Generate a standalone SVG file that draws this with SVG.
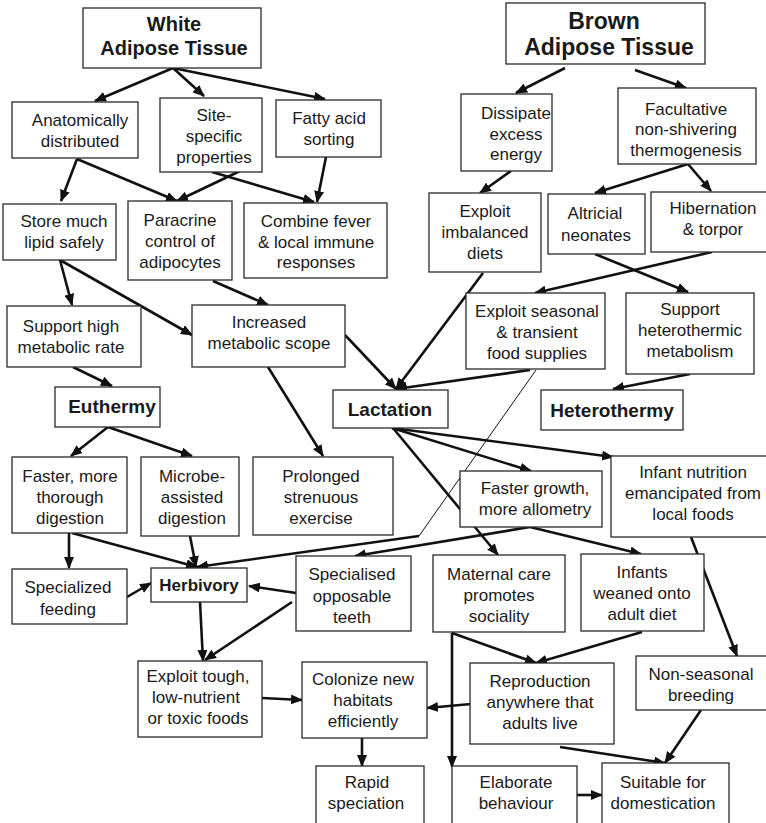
<svg xmlns="http://www.w3.org/2000/svg" width="766" height="823" viewBox="0 0 766 823">
<style>
.b{fill:#fff;stroke:#2a2a2a;stroke-width:1.3}
.t{font-family:"Liberation Sans",Arial,sans-serif;font-size:17px;fill:#1a1a1a;text-anchor:middle}
.h{font-weight:bold;font-size:19px}
.c{stroke:#111;stroke-width:2.6;fill:none;marker-end:url(#ah)}
.thin{stroke:#111;stroke-width:1;fill:none}
</style>
<defs>
<marker id="ah" markerUnits="userSpaceOnUse" markerWidth="13" markerHeight="10" refX="11" refY="5" orient="auto">
<path d="M0,0 L12,5 L0,10 z" fill="#111"/>
</marker>
</defs>
<rect width="766" height="823" fill="#fff"/>
<g id="connectors">
<line class="c" x1="173" y1="68" x2="95" y2="101"/>
<line class="c" x1="173" y1="68" x2="204" y2="96"/>
<line class="c" x1="173" y1="68" x2="325" y2="99"/>
<line class="c" x1="77" y1="159" x2="61" y2="201"/>
<line class="c" x1="77" y1="159" x2="177" y2="201"/>
<line class="c" x1="240" y1="171" x2="177" y2="201"/>
<line class="c" x1="212" y1="172" x2="314" y2="202"/>
<line class="c" x1="326" y1="157" x2="317" y2="202"/>
<line class="c" x1="60" y1="260" x2="72" y2="305"/>
<line class="c" x1="60" y1="260" x2="192" y2="335"/>
<line class="c" x1="213" y1="281" x2="268" y2="305"/>
<line class="c" x1="73" y1="367" x2="112" y2="386"/>
<line class="c" x1="268" y1="367" x2="323" y2="456"/>
<line class="c" x1="345" y1="335" x2="396" y2="389"/>
<line class="c" x1="483" y1="273" x2="396" y2="389"/>
<line class="c" x1="530" y1="370" x2="396" y2="389"/>
<line class="c" x1="108" y1="427" x2="71" y2="456"/>
<line class="c" x1="108" y1="427" x2="192" y2="456"/>
<line class="c" x1="565" y1="68" x2="516" y2="93"/>
<line class="c" x1="635" y1="70" x2="686" y2="88"/>
<line class="c" x1="511" y1="171" x2="480" y2="193"/>
<line class="c" x1="688" y1="164" x2="595" y2="193"/>
<line class="c" x1="688" y1="164" x2="711" y2="191"/>
<line class="c" x1="595" y1="254" x2="688" y2="292"/>
<line class="c" x1="712" y1="252" x2="535" y2="293"/>
<line class="c" x1="690" y1="374" x2="613" y2="389"/>
<line class="c" x1="392" y1="428" x2="531" y2="471"/>
<line class="c" x1="392" y1="428" x2="613" y2="457"/>
<line class="c" x1="393" y1="428" x2="498" y2="555"/>
<line class="thin" x1="536" y1="370" x2="419" y2="536"/>
<line class="c" x1="419" y1="536" x2="197" y2="567"/>
<line class="c" x1="530" y1="527" x2="355" y2="556"/>
<line class="c" x1="530" y1="527" x2="641" y2="554"/>
<line class="c" x1="691" y1="537" x2="737" y2="656"/>
<line class="c" x1="452" y1="633" x2="536" y2="663"/>
<line class="c" x1="452" y1="633" x2="452" y2="767"/>
<line class="c" x1="642" y1="632" x2="536" y2="663"/>
<line class="c" x1="471" y1="704" x2="427" y2="708"/>
<line class="c" x1="560" y1="747" x2="665" y2="763"/>
<line class="c" x1="701" y1="710" x2="665" y2="763"/>
<line class="c" x1="576" y1="795" x2="602" y2="795"/>
<line class="c" x1="362" y1="738" x2="362" y2="766"/>
<line class="c" x1="262" y1="698" x2="302" y2="700"/>
<line class="c" x1="200" y1="602" x2="203" y2="661"/>
<line class="c" x1="292" y1="602" x2="205" y2="660"/>
<line class="c" x1="296" y1="593" x2="249" y2="586"/>
<line class="c" x1="127" y1="597" x2="151" y2="583"/>
<line class="c" x1="69" y1="533" x2="69" y2="568"/>
<line class="c" x1="72" y1="533" x2="197" y2="567"/>
<line class="c" x1="190" y1="536" x2="196" y2="567"/>
</g>
<g id="wat"><rect class="b" x="83" y="8" width="178" height="60"/><text class="t h" style="font-size:20px" x="174" y="31">White</text><text class="t h" style="font-size:20px" x="174" y="55">Adipose Tissue</text></g>
<g id="anat"><rect class="b" x="12" y="102" width="126" height="56"/><text class="t" x="80" y="126">Anatomically</text><text class="t" x="80" y="147">distributed</text></g>
<g id="site"><rect class="b" x="160" y="98" width="102" height="74"/><text class="t" x="214" y="121">Site-</text><text class="t" x="214" y="142">specific</text><text class="t" x="214" y="163">properties</text></g>
<g id="fatty"><rect class="b" x="276" y="100" width="105" height="57"/><text class="t" x="329" y="124">Fatty acid</text><text class="t" x="329" y="145">sorting</text></g>
<g id="store"><rect class="b" x="3" y="204" width="113" height="56"/><text class="t" x="64" y="227">Store much</text><text class="t" x="64" y="248">lipid safely</text></g>
<g id="paracrine"><rect class="b" x="128" y="201" width="104" height="79"/><text class="t" x="180" y="226">Paracrine</text><text class="t" x="180" y="247">control of</text><text class="t" x="180" y="268">adipocytes</text></g>
<g id="combine"><rect class="b" x="244" y="203" width="143" height="75"/><text class="t" x="316" y="227">Combine fever</text><text class="t" x="316" y="248">&amp; local immune</text><text class="t" x="316" y="268">responses</text></g>
<g id="supporthigh"><rect class="b" x="7" y="306" width="134" height="61"/><text class="t" x="71" y="332">Support high</text><text class="t" x="71" y="353">metabolic rate</text></g>
<g id="increased"><rect class="b" x="192" y="305" width="153" height="62"/><text class="t" x="269" y="328">Increased</text><text class="t" x="269" y="349">metabolic scope</text></g>
<g id="euthermy"><rect class="b" x="55" y="387" width="105" height="40"/><text class="t h" x="112" y="413">Euthermy</text></g>
<g id="lactation"><rect class="b" x="333" y="390" width="115" height="38"/><text class="t h" x="390" y="416">Lactation</text></g>
<g id="heterothermy"><rect class="b" x="541" y="390" width="142" height="40"/><text class="t h" x="612" y="417">Heterothermy</text></g>
<g id="fasterdig"><rect class="b" x="12" y="457" width="115" height="76"/><text class="t" x="70" y="482">Faster, more</text><text class="t" x="70" y="503">thorough</text><text class="t" x="70" y="524">digestion</text></g>
<g id="microbe"><rect class="b" x="141" y="457" width="98" height="79"/><text class="t" x="192" y="482">Microbe-</text><text class="t" x="192" y="503">assisted</text><text class="t" x="192" y="524">digestion</text></g>
<g id="prolonged"><rect class="b" x="253" y="457" width="140" height="78"/><text class="t" x="321" y="482">Prolonged</text><text class="t" x="321" y="503">strenuous</text><text class="t" x="321" y="524">exercise</text></g>
<g id="fastergrowth"><rect class="b" x="460" y="471" width="142" height="56"/><text class="t" x="535" y="494">Faster growth,</text><text class="t" x="535" y="515">more allometry</text></g>
<g id="infantnutrition"><rect class="b" x="611" y="456" width="160" height="81"/><text class="t" x="693" y="478">Infant nutrition</text><text class="t" x="693" y="499">emancipated from</text><text class="t" x="693" y="520">local foods</text></g>
<g id="bat"><rect class="b" x="506" y="3" width="199" height="61"/><text class="t h" style="font-size:23px" x="604" y="29">Brown</text><text class="t h" style="font-size:23px" x="609" y="55">Adipose Tissue</text></g>
<g id="dissipate"><rect class="b" x="461" y="94" width="91" height="77"/><text class="t" x="516" y="119">Dissipate</text><text class="t" x="516" y="140">excess</text><text class="t" x="516" y="160">energy</text></g>
<g id="facultative"><rect class="b" x="618" y="88" width="138" height="76"/><text class="t" x="686" y="115">Facultative</text><text class="t" x="686" y="135">non-shivering</text><text class="t" x="686" y="156">thermogenesis</text></g>
<g id="imbalanced"><rect class="b" x="429" y="193" width="112" height="79"/><text class="t" x="485" y="217">Exploit</text><text class="t" x="485" y="238">imbalanced</text><text class="t" x="485" y="259">diets</text></g>
<g id="altricial"><rect class="b" x="548" y="194" width="97" height="60"/><text class="t" x="595" y="219">Altricial</text><text class="t" x="596" y="241">neonates</text></g>
<g id="hibernation"><rect class="b" x="651" y="192" width="120" height="60"/><text class="t" x="713" y="214">Hibernation</text><text class="t" x="713" y="235">&amp; torpor</text></g>
<g id="seasonal"><rect class="b" x="466" y="293" width="139" height="76"/><text class="t" x="537" y="317">Exploit seasonal</text><text class="t" x="537" y="338">&amp; transient</text><text class="t" x="537" y="359">food supplies</text></g>
<g id="supporthet"><rect class="b" x="626" y="293" width="128" height="81"/><text class="t" x="690" y="315">Support</text><text class="t" x="690" y="336">heterothermic</text><text class="t" x="690" y="357">metabolism</text></g>
<g id="specfeeding"><rect class="b" x="12" y="569" width="115" height="55"/><text class="t" x="68" y="593">Specialized</text><text class="t" x="68" y="615">feeding</text></g>
<g id="herbivory"><rect class="b" x="151" y="568" width="96" height="34"/><text class="t h" style="font-size:17px" x="199" y="591">Herbivory</text></g>
<g id="teeth"><rect class="b" x="296" y="556" width="115" height="75"/><text class="t" x="352" y="580">Specialised</text><text class="t" x="352" y="602">opposable</text><text class="t" x="352" y="623">teeth</text></g>
<g id="maternal"><rect class="b" x="433" y="555" width="132" height="77"/><text class="t" x="499" y="580">Maternal care</text><text class="t" x="499" y="601">promotes</text><text class="t" x="499" y="622">sociality</text></g>
<g id="weaned"><rect class="b" x="581" y="554" width="123" height="77"/><text class="t" x="642" y="578">Infants</text><text class="t" x="642" y="599">weaned onto</text><text class="t" x="642" y="620">adult diet</text></g>
<g id="tough"><rect class="b" x="138" y="661" width="124" height="76"/><text class="t" x="198" y="682">Exploit tough,</text><text class="t" x="196" y="703">low-nutrient</text><text class="t" x="198" y="724">or toxic foods</text></g>
<g id="colonize"><rect class="b" x="302" y="662" width="125" height="76"/><text class="t" x="363" y="685">Colonize new</text><text class="t" x="363" y="706">habitats</text><text class="t" x="363" y="727">efficiently</text></g>
<g id="reproduction"><rect class="b" x="470" y="663" width="144" height="81"/><text class="t" x="540" y="687">Reproduction</text><text class="t" x="540" y="708">anywhere that</text><text class="t" x="540" y="729">adults live</text></g>
<g id="nonseasonal"><rect class="b" x="636" y="656" width="135" height="54"/><text class="t" x="701" y="680">Non-seasonal</text><text class="t" x="701" y="701">breeding</text></g>
<g id="rapid"><rect class="b" x="316" y="766" width="108" height="64"/><text class="t" x="367" y="788">Rapid</text><text class="t" x="366" y="809">speciation</text></g>
<g id="elaborate"><rect class="b" x="452" y="766" width="125" height="64"/><text class="t" x="516" y="788">Elaborate</text><text class="t" x="516" y="809">behaviour</text></g>
<g id="suitable"><rect class="b" x="602" y="763" width="127" height="67"/><text class="t" x="663" y="788">Suitable for</text><text class="t" x="663" y="809">domestication</text></g>
</svg>
